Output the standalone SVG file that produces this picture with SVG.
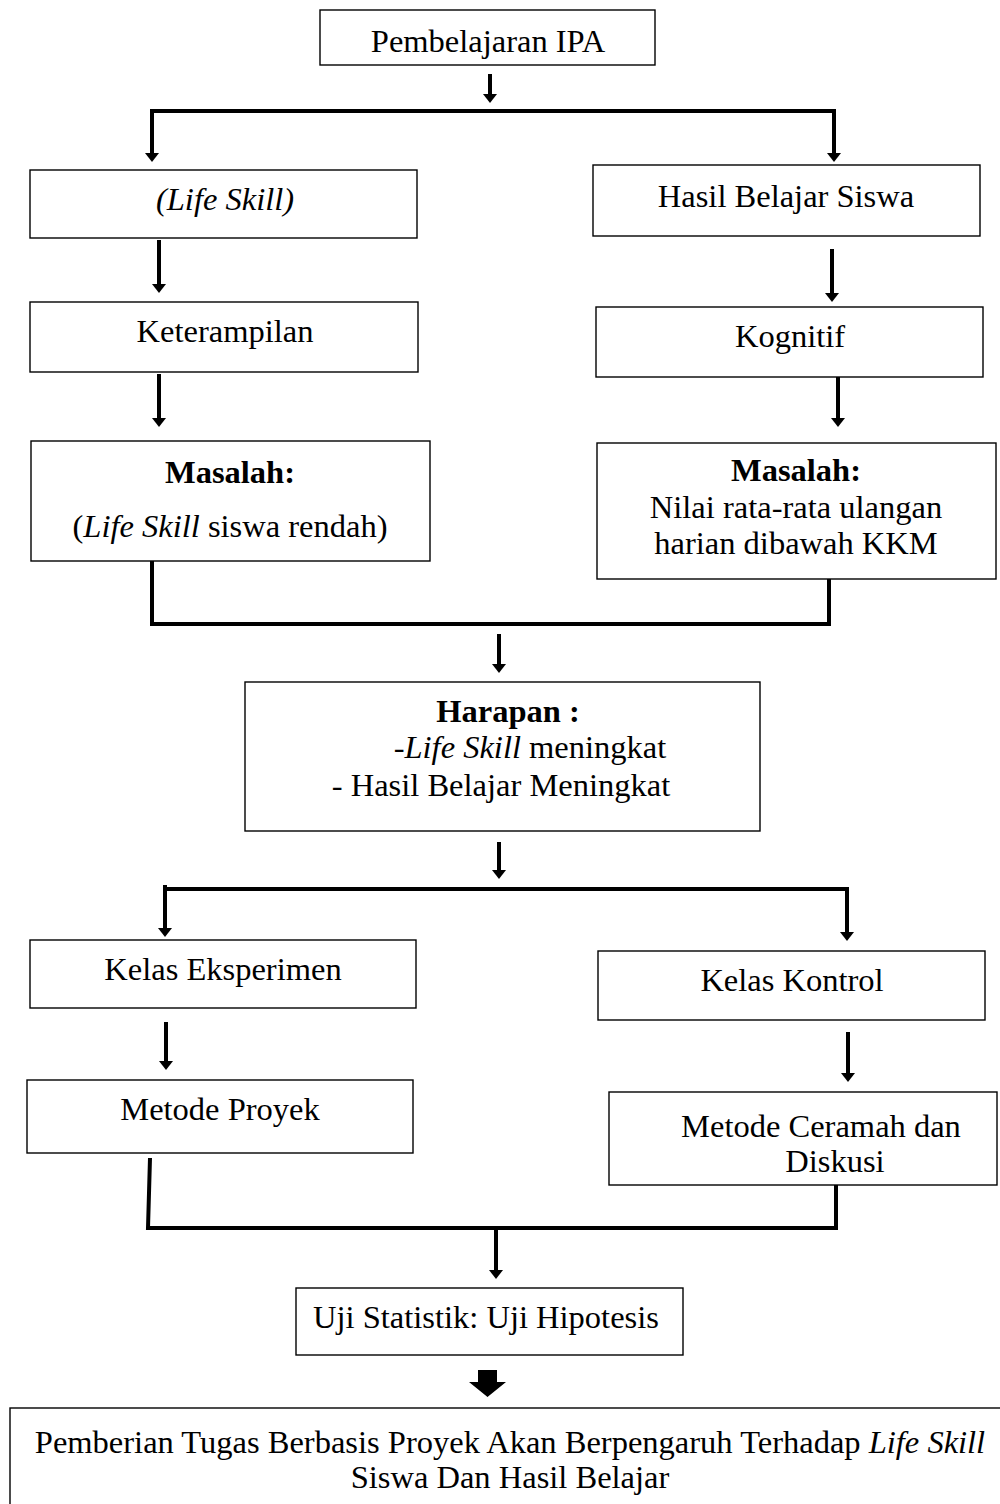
<svg xmlns="http://www.w3.org/2000/svg" width="1000" height="1504" viewBox="0 0 1000 1504">
<style>
.box{fill:#fff;stroke:#000;stroke-width:1.4}
.t{font-family:"Liberation Serif","Times New Roman",serif;font-size:32.5px;fill:#000;text-anchor:middle}
.b{font-weight:bold}
.i{font-style:italic}
.c{fill:none;stroke:#000;stroke-width:4}
.a{fill:none;stroke:#000;stroke-width:4;marker-end:url(#ah)}
</style>
<defs>
<marker id="ah" viewBox="0 0 9 14" refX="0" refY="7" markerWidth="9" markerHeight="14" markerUnits="userSpaceOnUse" orient="auto">
<path d="M0,0 L9,7 L0,14 z" fill="#000"/>
</marker>
</defs>
<rect width="1000" height="1504" fill="#fff"/>
<g id="connectors">
<line class="a" x1="490" y1="74" x2="490" y2="94"/>
<path class="c" d="M152,111 H834"/>
<line class="a" x1="152" y1="109" x2="152" y2="153"/>
<line class="a" x1="834" y1="109" x2="834" y2="153"/>
<line class="a" x1="159" y1="240" x2="159" y2="284"/>
<line class="a" x1="832" y1="249" x2="832" y2="293"/>
<line class="a" x1="159" y1="374" x2="159" y2="418"/>
<line class="a" x1="838" y1="376" x2="838" y2="418"/>
<path class="c" d="M152,561 V624 H829 V579" stroke-linecap="square"/>
<line class="a" x1="499" y1="634" x2="499" y2="664"/>
<line class="a" x1="499" y1="842" x2="499" y2="870"/>
<path class="c" d="M163,889 H849"/>
<line class="a" x1="165" y1="885" x2="165" y2="928"/>
<line class="a" x1="847" y1="887" x2="847" y2="932"/>
<line class="a" x1="166" y1="1022" x2="166" y2="1061"/>
<line class="a" x1="848" y1="1032" x2="848" y2="1073"/>
<path class="c" d="M150,1158 L148,1228 H836 V1185"/>
<line class="a" x1="496" y1="1228" x2="496" y2="1270"/>
<polygon points="478,1370 497,1370 497,1382 506,1382 487.5,1397 469,1382 478,1382" fill="#000"/>
</g>
<g id="n1"><rect class="box" x="320" y="10" width="335" height="55"/><text class="t" x="488" y="52">Pembelajaran IPA</text></g>
<g id="n2"><rect class="box" x="30" y="170" width="387" height="68"/><text class="t i" x="225" y="210">(Life Skill)</text></g>
<g id="n3"><rect class="box" x="593" y="165" width="387" height="71"/><text class="t" x="786" y="207">Hasil Belajar Siswa</text></g>
<g id="n4"><rect class="box" x="30" y="302" width="388" height="70"/><text class="t" x="225" y="342">Keterampilan</text></g>
<g id="n5"><rect class="box" x="596" y="307" width="387" height="70"/><text class="t" x="790" y="347">Kognitif</text></g>
<g id="n6"><rect class="box" x="31" y="441" width="399" height="120"/><text class="t b" x="230" y="483">Masalah:</text><text class="t" x="230" y="537">(<tspan class="i">Life Skill</tspan> siswa rendah)</text></g>
<g id="n7"><rect class="box" x="597" y="443" width="399" height="136"/><text class="t b" x="796" y="481">Masalah:</text><text class="t" x="796" y="518">Nilai rata-rata ulangan</text><text class="t" x="796" y="554">harian dibawah KKM</text></g>
<g id="n8"><rect class="box" x="245" y="682" width="515" height="149"/><text class="t b" x="508" y="722">Harapan :</text><text class="t" x="530" y="758">-<tspan class="i">Life Skill</tspan> meningkat</text><text class="t" x="501" y="796">- Hasil Belajar Meningkat</text></g>
<g id="n9"><rect class="box" x="30" y="940" width="386" height="68"/><text class="t" x="223" y="980">Kelas Eksperimen</text></g>
<g id="n10"><rect class="box" x="598" y="951" width="387" height="69"/><text class="t" x="792" y="991">Kelas Kontrol</text></g>
<g id="n11"><rect class="box" x="27" y="1080" width="386" height="73"/><text class="t" x="220" y="1120">Metode Proyek</text></g>
<g id="n12"><rect class="box" x="609" y="1092" width="388" height="93"/><text class="t" x="821" y="1137">Metode Ceramah dan</text><text class="t" x="835" y="1172">Diskusi</text></g>
<g id="n13"><rect class="box" x="296" y="1288" width="387" height="67"/><text class="t" x="486" y="1328">Uji Statistik: Uji Hipotesis</text></g>
<g id="n14"><rect class="box" x="10" y="1408" width="1000" height="110"/><text class="t" x="510" y="1453">Pemberian Tugas Berbasis Proyek Akan Berpengaruh Terhadap <tspan class="i">Life Skill</tspan></text><text class="t" x="510" y="1488">Siswa Dan Hasil Belajar</text></g>
</svg>
